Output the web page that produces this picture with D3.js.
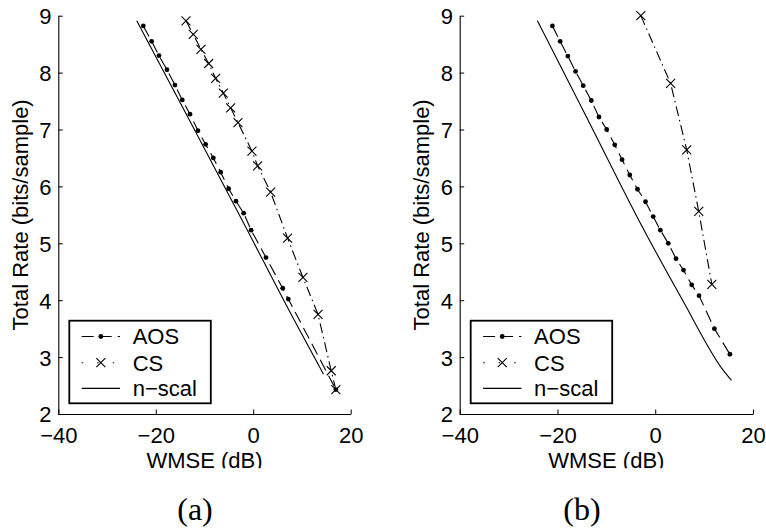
<!DOCTYPE html>
<html>
<head>
<meta charset="utf-8">
<script src="https://cdn.jsdelivr.net/npm/d3@7/dist/d3.min.js"></script>
<style>
  html, body { margin: 0; padding: 0; background: #fff; }
  svg { display: block; }
</style>
</head>
<body>
<svg id="chart" width="766" height="529"></svg>
<script>
// ---------------- data ----------------
const xTicks = [-40, -20, 0, 20];
const yTicks = [2, 3, 4, 5, 6, 7, 8, 9];
const seriesNames = ["AOS", "CS", "n\u2212scal"];
const panelLabels = ["(a)", "(b)"];
const xTitle = "WMSE (dB)";
const yTitle = "Total Rate (bits/sample)";

// panel (a)  [WMSE dB, rate bits/sample]
const aosA = [[-22.56,8.82],[-20.85,8.55],[-19.34,8.30],[-17.70,8.05],[-16.06,7.78],[-14.56,7.52],
  [-12.98,7.27],[-11.34,6.98],[-9.77,6.74],[-8.19,6.50],[-6.69,6.25],[-5.05,5.96],[-3.54,5.74],
  [-1.97,5.53],[-0.43,5.23],[2.62,4.75],[6.05,4.21],[7.20,4.02],[16.95,2.43]];
const csA = [[-13.80,8.91],[-12.30,8.67],[-10.73,8.41],[-9.15,8.16],[-7.72,7.90],[-6.14,7.64],
  [-4.64,7.38],[-3.13,7.12],[-0.26,6.62],[0.90,6.36],[3.57,5.90],[7.05,5.09],[10.2,4.40],
  [13.3,3.75],[16.0,2.76],[16.95,2.43]];
const nscalA = [[-23.9,8.91],[-13.0,7.15],[-2.3,5.41],[8.4,3.65],[14.4,2.70]];

// panel (b)
const aosB = [[-21.03,8.82],[-19.45,8.55],[-17.88,8.29],[-16.30,8.02],[-14.73,7.77],[-13.08,7.51],
  [-11.51,7.22],[-9.93,7.00],[-8.29,6.73],[-6.78,6.47],[-5.21,6.20],[-3.63,5.95],[-1.99,5.73],
  [-0.41,5.47],[1.05,5.23],[2.67,5.00],[4.25,4.73],[5.78,4.53],[7.46,4.27],[8.96,4.08],
  [12.1,3.50],[15.27,3.05]];
const csB = [[-2.95,9.00],[3.15,7.81],[6.44,6.64],[8.90,5.56],[11.58,4.28]];
const nscalB = [[-24.1,8.91],[-13.65,7.15],[-3.2,5.38],[5.6,4.00],[13.9,2.77],[15.6,2.59]];

// ---------------- layout ----------------
const svg = d3.select("#chart");
const FONT = "'Liberation Sans', Arial, Helvetica, sans-serif";
const yTop = 15.7, yBot = 414;

const panels = [
  { x0: 58.3, x1: 350.7, aos: aosA, cs: csA, nscal: nscalA, label: panelLabels[0], labelX: 195 },
  { x0: 459.7, x1: 753, aos: aosB, cs: csB, nscal: nscalB, label: panelLabels[1], labelX: 582 }
];

svg.append("defs").append("clipPath").attr("id", "xlabclip")
  .append("rect").attr("x", 0).attr("y", 0).attr("width", 766).attr("height", 468.3);

const fmt = d => d < 0 ? "\u2212" + Math.abs(d) : String(d);

panels.forEach((p, i) => {
  const x = d3.scaleLinear().domain([-40, 20]).range([p.x0, p.x1]);
  const y = d3.scaleLinear().domain([2, 9]).range([yBot, yTop]);
  const g = svg.append("g");

  // axes
  const xa = g.append("g").attr("transform", `translate(0,${yBot})`)
    .call(d3.axisBottom(x).tickValues(xTicks).tickSizeInner(-4.5).tickSizeOuter(0).tickFormat(fmt));
  const ya = g.append("g").attr("transform", `translate(${p.x0},0)`)
    .call(d3.axisLeft(y).tickValues(yTicks).tickSizeInner(-4.5).tickSizeOuter(0).tickFormat(fmt));
  [xa, ya].forEach(a => {
    a.select(".domain").attr("stroke", "#000").attr("stroke-width", 1.1);
    a.selectAll(".tick line").attr("stroke", "#000").attr("stroke-width", 1);
    a.selectAll(".tick text").attr("fill", "#000").style("font-family", FONT).style("font-size", "22px");
  });
  xa.selectAll(".tick text").attr("y", 28.5).attr("dy", null);
  ya.selectAll(".tick text").attr("x", -6.8).attr("dy", "0.36em");

  // axis titles
  g.append("text").attr("clip-path", "url(#xlabclip)")
    .attr("x", (p.x0 + p.x1) / 2).attr("y", 468).attr("text-anchor", "middle")
    .style("font-family", FONT).style("font-size", "22px").text(xTitle);
  g.append("text")
    .attr("transform", `translate(${p.x0 - 30.8},${(yTop + yBot) / 2}) rotate(-90)`)
    .attr("text-anchor", "middle")
    .style("font-family", FONT).style("font-size", "22px").text(yTitle);

  // panel label
  g.append("text").attr("x", p.labelX).attr("y", 520).attr("text-anchor", "middle")
    .style("font-family", "'Liberation Serif', 'DejaVu Serif', serif").style("font-size", "32px")
    .text(p.label);

  const line = d3.line().x(d => x(d[0])).y(d => y(d[1]));
  const curveLine = d3.line().x(d => x(d[0])).y(d => y(d[1])).curve(d3.curveMonotoneX);

  // n-scal solid
  g.append("path").datum(p.nscal).attr("d", curveLine)
    .attr("fill", "none").attr("stroke", "#000").attr("stroke-width", 1.1);
  // AOS dashed
  g.append("path").datum(p.aos).attr("d", line)
    .attr("fill", "none").attr("stroke", "#000").attr("stroke-width", 1.1)
    .attr("stroke-dasharray", "12,6");
  // CS dash-dot
  g.append("path").datum(p.cs).attr("d", line)
    .attr("fill", "none").attr("stroke", "#000").attr("stroke-width", 1.1)
    .attr("stroke-dasharray", "10,4,1.5,4");

  // markers
  g.selectAll(".aosdot").data(p.aos).join("circle")
    .attr("cx", d => x(d[0])).attr("cy", d => y(d[1])).attr("r", 2.4).attr("fill", "#000");
  const xs = 4.5;
  g.selectAll(".csx").data(p.cs).join("path")
    .attr("d", d => {
      const cx = x(d[0]), cy = y(d[1]);
      return `M${cx - xs},${cy - xs}L${cx + xs},${cy + xs}M${cx - xs},${cy + xs}L${cx + xs},${cy - xs}`;
    })
    .attr("stroke", "#000").attr("stroke-width", 1.1).attr("fill", "none");

  // legend
  const lx = p.x0 + 11, ly = 320.7, lw = 141.5, lh = 82.6;
  const lg = g.append("g");
  lg.append("rect").attr("x", lx).attr("y", ly).attr("width", lw).attr("height", lh)
    .attr("fill", "#fff").attr("stroke", "#000").attr("stroke-width", 1.8);
  const baselines = [344.3, 370.5, 396.2];
  const sx0 = lx + 12.4, sx1 = lx + 50.7, smid = (sx0 + sx1) / 2;
  const dashes = ["12,6", "1.5,14", null];
  seriesNames.forEach((name, k) => {
    const cy = baselines[k] - 7.8;
    const ln = lg.append("line").attr("x1", sx0).attr("x2", sx1).attr("y1", cy).attr("y2", cy)
      .attr("stroke", "#000").attr("stroke-width", 1.1);
    if (dashes[k]) ln.attr("stroke-dasharray", dashes[k]);
    if (k === 0) lg.append("circle").attr("cx", smid).attr("cy", cy).attr("r", 2.4).attr("fill", "#000");
    if (k === 1) lg.append("path")
      .attr("d", `M${smid - xs},${cy - xs}L${smid + xs},${cy + xs}M${smid - xs},${cy + xs}L${smid + xs},${cy - xs}`)
      .attr("stroke", "#000").attr("stroke-width", 1.1);
    lg.append("text").attr("x", lx + 63.4).attr("y", baselines[k])
      .style("font-family", FONT).style("font-size", "22px").text(name);
  });
});
</script>
</body>
</html>
